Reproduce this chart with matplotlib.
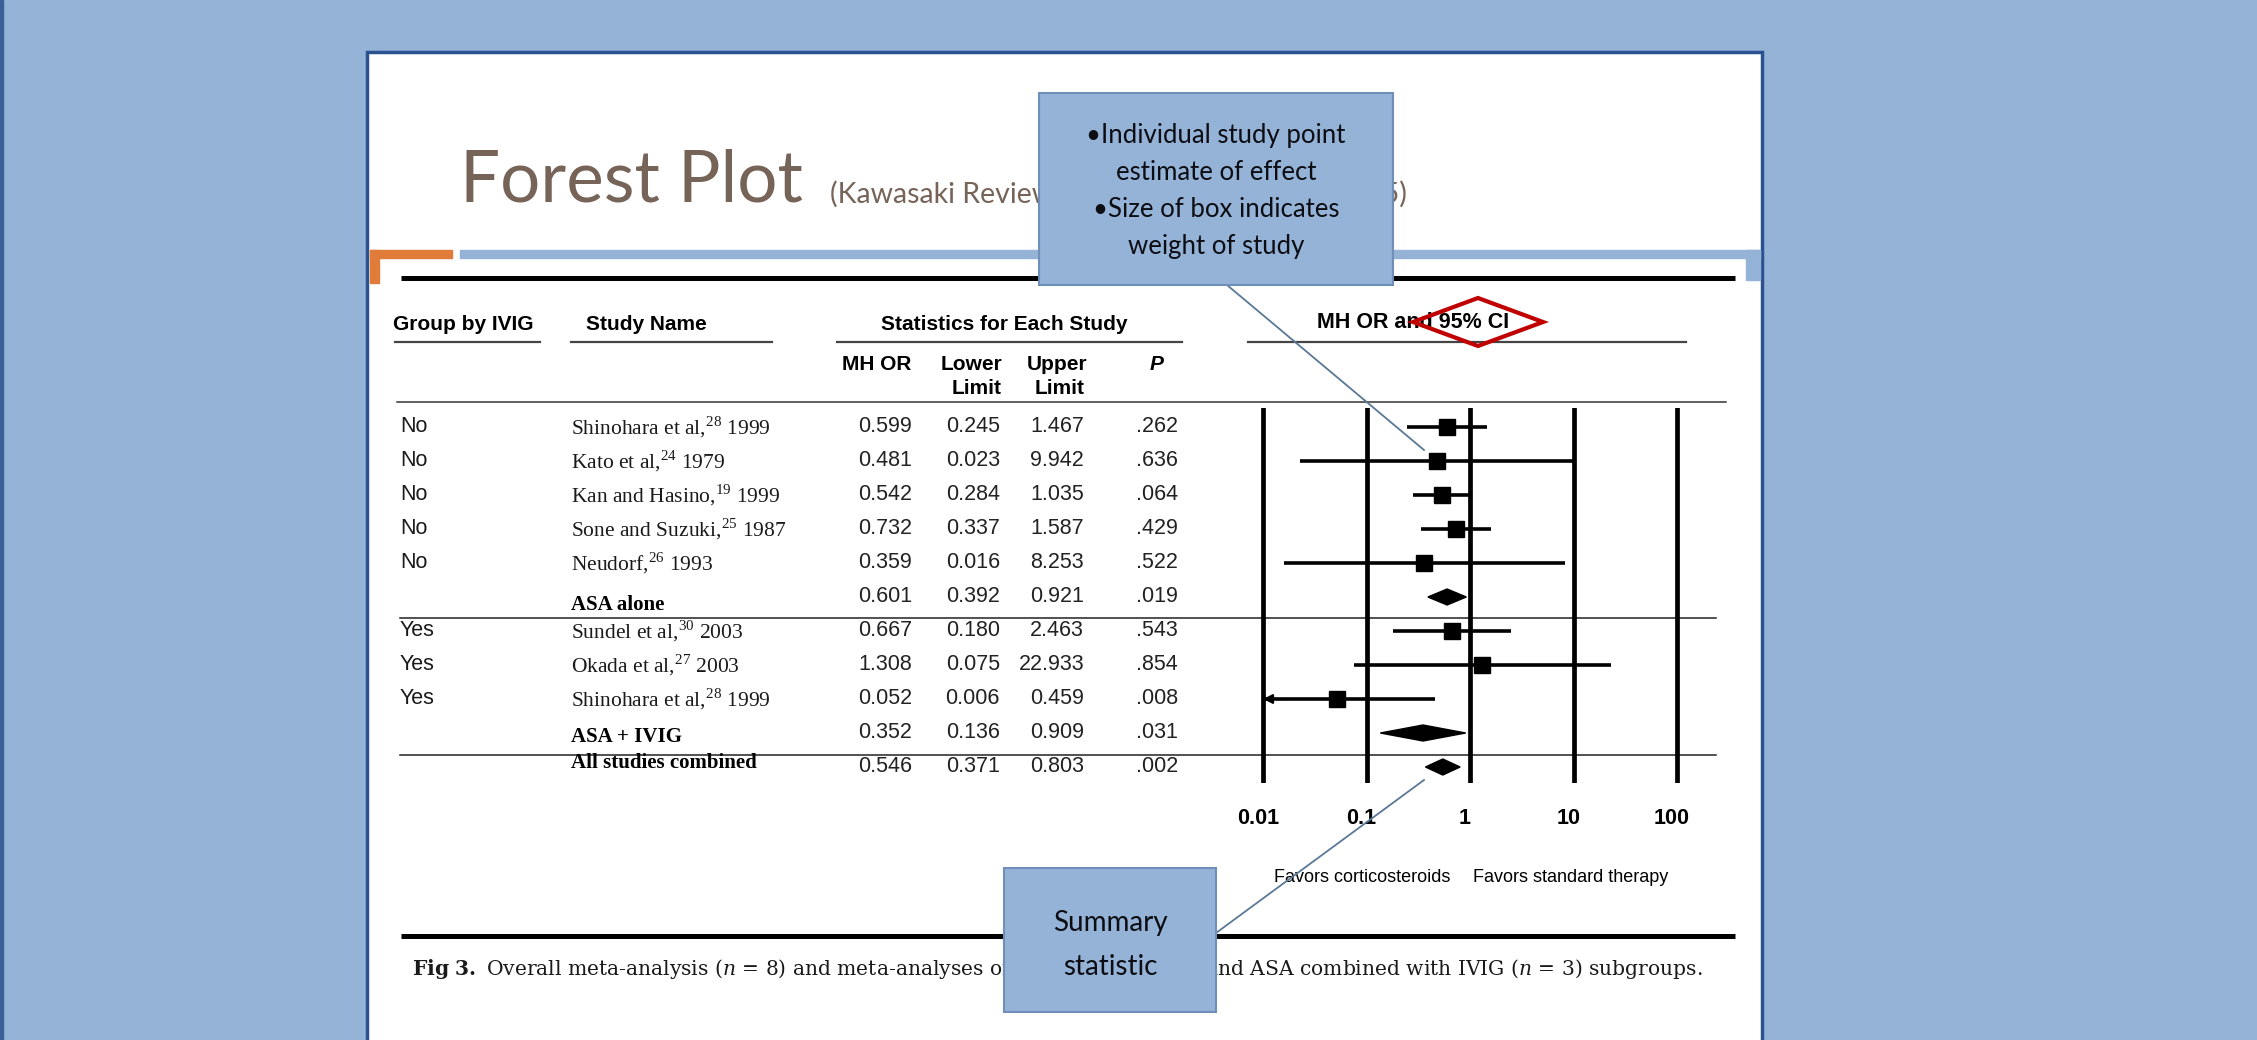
import numpy as np
import matplotlib
matplotlib.use("Agg")
import matplotlib.pyplot as plt
from matplotlib.patches import Rectangle, Polygon
from matplotlib.ticker import NullLocator
from matplotlib.transforms import ScaledTranslation

plt.rcParams['mathtext.fontset'] = 'custom'
plt.rcParams['mathtext.rm'] = 'Liberation Serif'
plt.rcParams['mathtext.it'] = 'DejaVu Serif:italic'
plt.rcParams['mathtext.bf'] = 'DejaVu Serif:bold'

# ---- data ----
groups = ['No', 'No', 'No', 'No', 'No', '', 'Yes', 'Yes', 'Yes', '', '']
studies = ['Shinohara et al,$^{28}$ 1999', 'Kato et al,$^{24}$ 1979',
           'Kan and Hasino,$^{19}$ 1999', 'Sone and Suzuki,$^{25}$ 1987',
           'Neudorf,$^{26}$ 1993', 'ASA alone',
           'Sundel et al,$^{30}$ 2003', 'Okada et al,$^{27}$ 2003',
           'Shinohara et al,$^{28}$ 1999', 'ASA + IVIG', 'All studies combined']
mh_or = [0.599, 0.481, 0.542, 0.732, 0.359, 0.601, 0.667, 1.308, 0.052, 0.352, 0.546]
lower = [0.245, 0.023, 0.284, 0.337, 0.016, 0.392, 0.180, 0.075, 0.006, 0.136, 0.371]
upper = [1.467, 9.942, 1.035, 1.587, 8.253, 0.921, 2.463, 22.933, 0.459, 0.909, 0.803]
p_vals = ['.262', '.636', '.064', '.429', '.522', '.019', '.543', '.854', '.008', '.031', '.002']
summary = [False, False, False, False, False, True, False, False, False, True, True]
ticks = [0.01, 0.1, 1, 10, 100]
tick_labels = ['0.01', '0.1', '1', '10', '100']

W, H = 2257, 1040
BG = '#95b3d7'
BROWN = '#776459'
SANS = 'Liberation Sans'
SERIF = 'Liberation Serif'

fig = plt.figure(figsize=(W / 100, H / 100), dpi=100, facecolor=BG)
bg = fig.add_axes([0, 0, 1, 1])
bg.set_xlim(0, W)
bg.set_ylim(H, 0)
bg.axis('off')


def fit_width(txt, target_px):
    # scale font so the text spans target_px pixels
    fig.canvas.draw()
    w = txt.get_window_extent().width
    txt.set_fontsize(txt.get_fontsize() * target_px / w)


# slide
bg.add_patch(Rectangle((0, 0), 3, H, color='#3a5f99', zorder=1))
bg.add_patch(Rectangle((367, 52), 1762 - 367, H, facecolor='white',
                       edgecolor='#2c5190', lw=2.5, zorder=1))
bg.add_patch(Rectangle((370, 250), 82, 8, color='#e07b39', zorder=2))
bg.add_patch(Rectangle((370, 250), 9, 33, color='#e07b39', zorder=2))
bg.add_patch(Rectangle((460, 250), 1300, 8, color=BG, zorder=2))
bg.add_patch(Rectangle((1746, 250), 14, 30, color=BG, zorder=2))

title = bg.text(460, 202, 'Forest Plot', family='Lato', fontsize=52, color=BROWN,
                va='baseline', ha='left', zorder=3)
fit_width(title, 802 - 460)
sub = bg.text(830, 203, '(Kawasaki Review, Wooditch & Aronoff 2005)', family='Lato',
              fontsize=20, color=BROWN, va='baseline', ha='left', zorder=3)
fit_width(sub, 1407 - 830)

# thick rules
bg.plot([401, 1735], [278, 278], color='black', lw=3.6, zorder=3, solid_capstyle='butt')
bg.plot([401, 1735], [936, 936], color='black', lw=3.6, zorder=3, solid_capstyle='butt')

# table headers
hdr = dict(family=SANS, fontsize=15, fontweight='bold', va='center', zorder=3)
bg.text(393, 324, 'Group by IVIG', ha='left', **hdr)
bg.text(586, 324, 'Study Name', ha='left', **hdr)
bg.text(1004, 324, 'Statistics for Each Study', ha='center', **hdr)
bg.text(1317, 322, 'MH OR and 95% CI', ha='left', family=SANS, fontsize=15.5,
        fontweight='bold', va='center', zorder=3)
for x0, x1 in [(395, 540), (571, 772), (837, 1182), (1248, 1686)]:
    bg.plot([x0, x1], [342, 342], color='#444444', lw=1.6, zorder=3)

bg.text(877, 365, 'MH OR', ha='center', **hdr)
bg.text(972, 365, 'Lower', ha='center', **hdr)
bg.text(977, 388, 'Limit', ha='center', **hdr)
bg.text(1057, 365, 'Upper', ha='center', **hdr)
bg.text(1060, 388, 'Limit', ha='center', **hdr)
bg.text(1157, 365, 'P', ha='center', family=SANS, fontsize=15,
        fontweight='bold', style='italic', va='center', zorder=3)

bg.plot([397, 1726], [402, 402], color='#333333', lw=1.1, zorder=3)
bg.plot([400, 1716], [618, 618], color='#222222', lw=1.1, zorder=3)
bg.plot([400, 1716], [755, 755], color='#222222', lw=1.1, zorder=3)

row_y = 427 + 34.0 * np.arange(len(mh_or))
label_shift = {5: 8, 9: 4, 10: -4}
num = dict(family=SANS, fontsize=15.5, color='#222222', va='center', ha='right', zorder=3)
for i, y in enumerate(row_y):
    if groups[i]:
        bg.text(400, y, groups[i], family=SANS, fontsize=15.5, color='#1a1a1a',
                va='center', ha='left', zorder=3)
    if summary[i]:
        bg.text(571, y + label_shift[i], studies[i], family=SERIF, fontsize=15,
                fontweight='bold', va='center', ha='left', zorder=3)
    else:
        bg.text(571, y, studies[i], family=SERIF, fontsize=15.5, color='#1a1a1a',
                va='center', ha='left', zorder=3)
    bg.text(912, y, f'{mh_or[i]:.3f}', **num)
    bg.text(1000, y, f'{lower[i]:.3f}', **num)
    bg.text(1084, y, f'{upper[i]:.3f}', **num)
    bg.text(1178, y, p_vals[i], **num)

# forest plot axes (x = 1470 + 103.5*log10(v) in pixels)
x_left, x_right, y_top, y_bot = 1240, 1700, 408, 783
span = (x_right - 1470) / 103.5
fx = fig.add_axes([x_left / W, 1 - y_bot / H, (x_right - x_left) / W, (y_bot - y_top) / H])
fx.set_xscale('log')
fx.set_xlim(10 ** -span, 10 ** span)
fx.set_ylim(y_bot, y_top)
fx.patch.set_alpha(0)
for s in fx.spines.values():
    s.set_visible(False)
fx.set_yticks([])
fx.xaxis.set_minor_locator(NullLocator())
fx.set_xticks(ticks)
fx.set_xticklabels(tick_labels, family=SANS, fontsize=15.5, fontweight='bold')
fx.tick_params(axis='x', length=0, pad=18)
for lab in fx.get_xticklabels():
    lab.set_transform(lab.get_transform() + ScaledTranslation(-0.05, 0, fig.dpi_scale_trans))
for t in ticks:
    fx.axvline(t, color='black', lw=3.4, zorder=1)

lim_lo = ticks[0]
for i, y in enumerate(row_y):
    if summary[i]:
        hh = 8
        fx.add_patch(Polygon([(lower[i], y), (mh_or[i], y - hh), (upper[i], y), (mh_or[i], y + hh)],
                             closed=True, color='black', zorder=3))
        continue
    lo = max(lower[i], lim_lo)
    fx.plot([lo, upper[i]], [y, y], color='black', lw=2.6, zorder=2, solid_capstyle='butt')
    if lower[i] < lim_lo:
        fx.annotate('', xy=(lim_lo, y), xytext=(lim_lo * 1.6, y),
                    arrowprops=dict(arrowstyle='-|>', color='black', lw=1.5,
                                    mutation_scale=14, shrinkA=0, shrinkB=0), zorder=3)
    fx.plot([mh_or[i]], [y], marker='s', ms=11.5, color='black', zorder=3)

bg.text(1450, 877, 'Favors corticosteroids', family=SANS, fontsize=13,
        ha='right', va='center', zorder=3)
bg.text(1473, 877, 'Favors standard therapy', family=SANS, fontsize=13,
        ha='left', va='center', zorder=3)

# caption
cap = bg.text(412, 975, r'$\bf{Fig\ 3.}$ Overall meta-analysis ($n$ = 8) and meta-analyses of ASA alone '
              r'($n$ = 5) and ASA combined with IVIG ($n$ = 3) subgroups.',
              family='DejaVu Serif', fontsize=13, color='#1a1a1a', va='baseline', ha='left', zorder=3)
fit_width(cap, 1701 - 412)

# red diamond highlight on header
cx, cy, hw, hh = 1478, 322, 65, 24
bg.add_patch(Polygon([(cx - hw, cy), (cx, cy - hh), (cx + hw, cy), (cx, cy + hh)],
                     closed=True, fill=False, edgecolor='#c00000', lw=3, zorder=6))

# callouts
top = fig.add_axes([0, 0, 1, 1])
top.set_xlim(0, W)
top.set_ylim(H, 0)
top.axis('off')
top.patch.set_alpha(0)
top.plot([1227, 1424], [285, 450], color='#5a7896', lw=1.3, zorder=5)
top.plot([1216, 1424], [933, 780], color='#5a7896', lw=1.3, zorder=5)
top.add_patch(Rectangle((1039, 93), 1393 - 1039, 285 - 93, facecolor='#94b3d6',
                        edgecolor='#6f8fb9', lw=1.5, zorder=6))
top.add_patch(Rectangle((1004, 868), 1216 - 1004, 1012 - 868, facecolor='#94b3d6',
                        edgecolor='#6f8fb9', lw=1.5, zorder=6))
box1 = ['\u2022Individual study point', 'estimate of effect',
        '\u2022Size of box indicates', 'weight of study']
for k, line in enumerate(box1):
    top.text(1216, 135 + 37.3 * k, line, family='Lato', fontsize=18.5, color='#0d0d14',
             ha='center', va='center', zorder=7)
for k, line in enumerate(['Summary', 'statistic']):
    top.text(1110, 923 + 44 * k, line, family='Lato', fontsize=20, color='#0d0d14',
             ha='center', va='center', zorder=7)

fig.savefig('out.png', dpi=100, facecolor=BG)
